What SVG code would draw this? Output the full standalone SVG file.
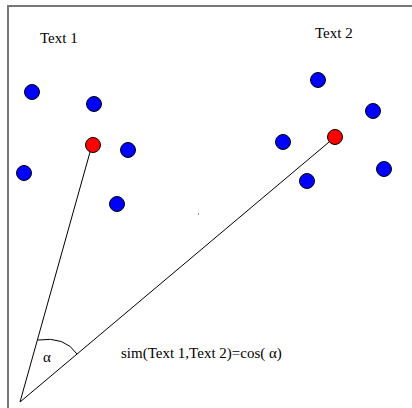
<svg xmlns="http://www.w3.org/2000/svg" width="412" height="408" viewBox="0 0 412 408">
<style>
.t{font-family:"Liberation Serif","Times New Roman",serif;font-size:15px;fill:#000}
.b{fill:#0000ff;stroke:#000;stroke-width:1}
.r{fill:#ff0000;stroke:#000;stroke-width:1}
.ln{stroke:#000;stroke-width:1;fill:none}
</style>
<rect width="412" height="408" fill="#fff"/>
<g id="frame" stroke="#777" stroke-width="2" fill="none">
<path d="M8,408 V6 H412"/>
</g>
<g id="connectors">
<line class="ln" x1="20" y1="402" x2="92" y2="145"/>
<line class="ln" x1="20" y1="402" x2="335" y2="137"/>
<path class="ln" d="M38,340 Q65,336 77,354"/>
</g>
<g id="text1-points">
<circle class="b" cx="32" cy="92" r="7.5"/>
<circle class="b" cx="94" cy="104" r="7.5"/>
<circle class="b" cx="128" cy="150" r="7.5"/>
<circle class="b" cx="24" cy="173" r="7.5"/>
<circle class="b" cx="117" cy="204" r="7.5"/>
</g>
<g id="text1-vector"><circle class="r" cx="93" cy="145" r="7.5"/></g>
<g id="text2-points">
<circle class="b" cx="318" cy="80" r="7.5"/>
<circle class="b" cx="373" cy="111" r="7.5"/>
<circle class="b" cx="283" cy="142" r="7.5"/>
<circle class="b" cx="307" cy="181" r="7.5"/>
<circle class="b" cx="384" cy="169" r="7.5"/>
</g>
<g id="text2-vector"><circle class="r" cx="335" cy="137" r="7.5"/></g>
<rect x="198" y="213" width="1" height="2" fill="#999"/>
<g id="labels">
<text class="t" x="40" y="43">Text 1</text>
<text class="t" x="315" y="38">Text 2</text>
<text class="t" x="43" y="362">α</text>
<text class="t" x="121" y="358">sim(Text 1,Text 2)=cos( α)</text>
</g>
</svg>
